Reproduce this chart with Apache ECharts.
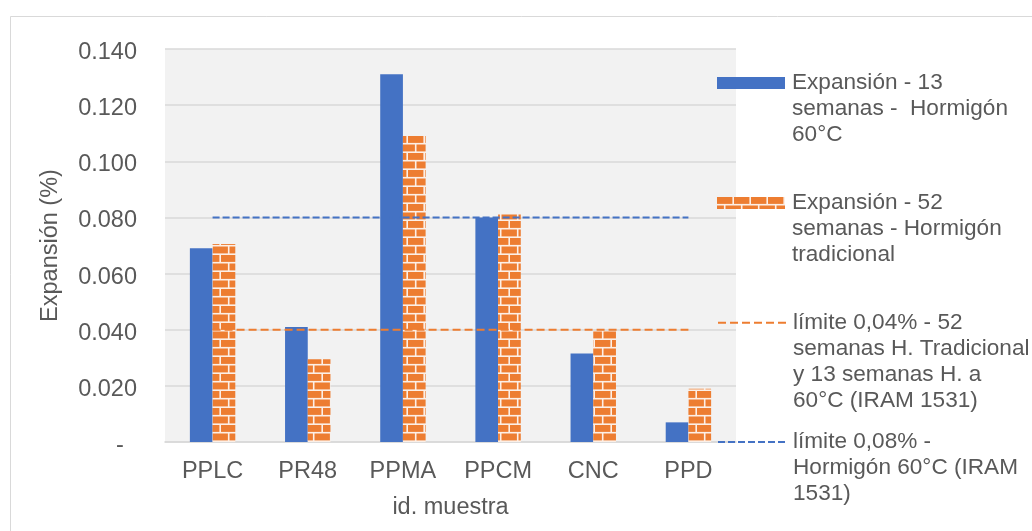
<!DOCTYPE html>
<html>
<head>
<meta charset="utf-8">
<script src="https://cdn.jsdelivr.net/npm/echarts@6/dist/echarts.min.js"></script>
<style>html,body{margin:0;padding:0;background:#fff}#c{width:1032px;height:531px}</style>
</head>
<body>
<div id="c"></div>
<script>
const categories = ['PPLC', 'PR48', 'PPMA', 'PPCM', 'CNC', 'PPD'];
const exp13 = [0.069, 0.041, 0.131, 0.080, 0.0315, 0.007];
const exp52 = [0.0705, 0.0295, 0.109, 0.081, 0.0395, 0.019];
const lim04 = [0.04, 0.04, 0.04, 0.04, 0.04, 0.04];
const lim08 = [0.08, 0.08, 0.08, 0.08, 0.08, 0.08];
const yTicks = { min: 0, max: 0.14, interval: 0.02 };

const names = [
  'Expansión - 13\nsemanas -  Hormigón\n60°C',
  'Expansión - 52\nsemanas - Hormigón\ntradicional',
  'límite 0,04% - 52\nsemanas H. Tradicional\ny 13 semanas H. a\n60°C (IRAM 1531)',
  'límite 0,08% -\nHormigón 60°C (IRAM\n1531)'
];

function brick() {
  const c = document.createElement('canvas');
  c.width = 17; c.height = 17;
  const g = c.getContext('2d');
  g.fillStyle = '#fcefe6'; g.fillRect(0, 0, 17, 17);
  g.fillStyle = '#ED7D31';
  g.fillRect(0, 0, 15.4, 6.9);
  g.fillRect(0, 8.5, 6.9, 6.9);
  g.fillRect(8.5, 8.5, 8.5, 6.9);
  return c;
}
const brickFill = { image: brick(), repeat: 'repeat' };

const TXT = '#595959';
const FONT = 'Liberation Sans, Arial, sans-serif';
const LH = 26;

function mkLegend(name, symCenter, isLine) {
  const n = name.split('\n').length;
  const lg = {
    data: [name],
    orient: 'vertical',
    left: 717,
    top: symCenter - (n - 0.5) * LH,
    padding: 0,
    itemWidth: 68,
    itemHeight: 12,
    selectedMode: false,
    formatter: s => '\n'.repeat(s.split('\n').length - 1) + s,
    textStyle: {
      color: TXT, fontFamily: FONT, fontSize: 22.6, lineHeight: LH,
      padding: [0, 0, 0, 2]
    }
  };
  if (isLine) {
    lg.itemStyle = { color: 'rgba(0,0,0,0)', borderWidth: 0, opacity: 0 };
  } else {
    lg.icon = 'rect';
  }
  return lg;
}

const chart = echarts.init(document.getElementById('c'), null, { renderer: 'canvas' });
chart.setOption({
  animation: false,
  backgroundColor: '#ffffff',
  textStyle: { fontFamily: FONT },
  graphic: [{
    type: 'rect', silent: true, z: -10,
    shape: { x: 10.5, y: 16.5, width: 1100, height: 600 },
    style: { fill: 'none', stroke: '#d9d9d9', lineWidth: 1 }
  }],
  grid: {
    left: 165, right: 296, top: 49, bottom: 89,
    show: true, backgroundColor: '#f2f2f2', borderWidth: 0
  },
  legend: [
    mkLegend(names[0], 83, false),
    mkLegend(names[1], 203, false),
    mkLegend(names[2], 322.7, true),
    mkLegend(names[3], 442, true)
  ],
  xAxis: {
    type: 'category',
    data: categories,
    name: 'id. muestra',
    nameLocation: 'middle',
    nameGap: 54,
    nameTextStyle: { color: TXT, fontSize: 23.5, fontFamily: FONT },
    axisLine: { show: true, lineStyle: { color: '#d9d9d9', width: 1.6 } },
    axisTick: { show: false },
    axisLabel: { color: TXT, fontSize: 23.5, fontFamily: FONT, margin: 18 },
    splitLine: { show: false }
  },
  yAxis: {
    type: 'value',
    min: yTicks.min, max: yTicks.max, interval: yTicks.interval,
    name: 'Expansión (%)',
    nameLocation: 'middle',
    nameGap: 102,
    nameTextStyle: { color: TXT, fontSize: 23.5, fontFamily: FONT },
    axisLine: { show: false },
    axisTick: { show: false },
    axisLabel: {
      margin: 28,
      formatter: v => '{t|' + (Math.abs(v) < 1e-9 ? '-  ' : v.toFixed(3)) + '}',
      rich: {
        t: { color: TXT, fontSize: 23.5, fontFamily: FONT, padding: [7, 0, 0, 0] }
      }
    },
    splitLine: { show: true, lineStyle: { color: '#d9d9d9', width: 1.5 } }
  },
  series: [
    {
      name: names[0], type: 'bar', data: exp13,
      barWidth: 22.7, barGap: '0%',
      itemStyle: { color: '#4472C4' }
    },
    {
      name: names[1], type: 'bar', data: exp52,
      barWidth: 22.7, barGap: '0%',
      itemStyle: { color: brickFill }
    },
    {
      name: names[2], type: 'line', data: lim04,
      symbol: 'none', z: 5,
      lineStyle: { color: '#ED7D31', width: 2, type: [8, 4] },
      itemStyle: { color: '#ED7D31' }
    },
    {
      name: names[3], type: 'line', data: lim08,
      symbol: 'none', z: 5,
      lineStyle: { color: '#4472C4', width: 2, type: [7, 3] },
      itemStyle: { color: '#4472C4' }
    }
  ]
});
</script>
</body>
</html>
